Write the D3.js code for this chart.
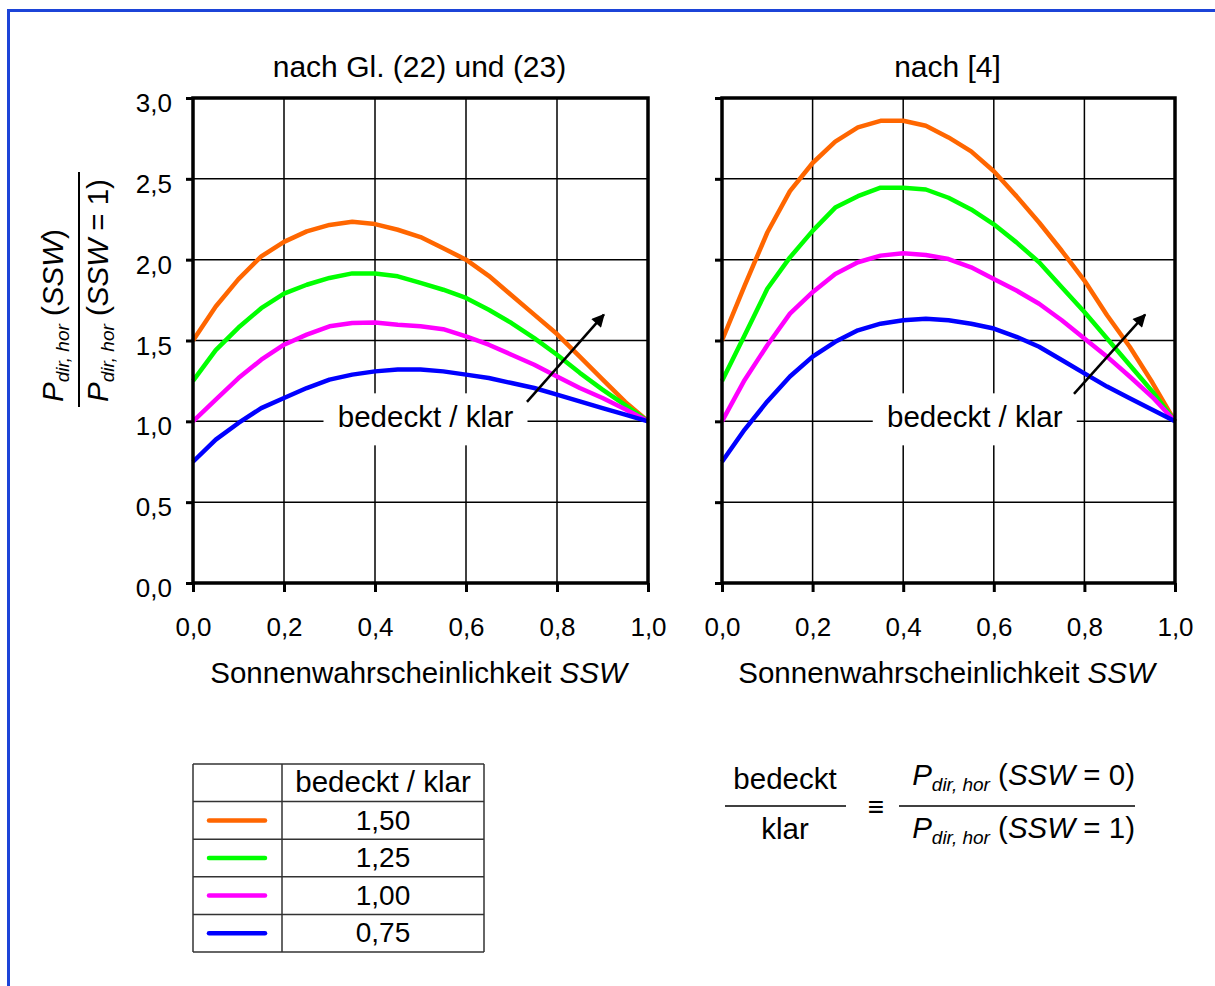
<!DOCTYPE html>
<html>
<head>
<meta charset="utf-8">
<script src="https://cdn.jsdelivr.net/npm/d3@7"></script>
<style>
  body { margin: 0; background: #fff; }
  svg { display: block; font-family: "Liberation Sans", Arial, sans-serif; }
</style>
</head>
<body>
<svg id="chart" width="1215" height="986"></svg>
<script>
// Sonnenwahrscheinlichkeit SSW (x positions of the samples)
const sswPoints = [0, 0.05, 0.1, 0.15, 0.2, 0.25, 0.3, 0.35, 0.4, 0.45, 0.5,
                   0.55, 0.6, 0.65, 0.7, 0.75, 0.8, 0.85, 0.9, 0.95, 1.0];

// left panel: nach Gl. (22) und (23)
const eq150 = [1.50, 1.71, 1.88, 2.02, 2.11, 2.175, 2.215, 2.235, 2.22, 2.185, 2.14,
               2.07, 2.0, 1.90, 1.78, 1.66, 1.54, 1.40, 1.26, 1.12, 1.0];
const eq125 = [1.25, 1.44, 1.58, 1.70, 1.79, 1.845, 1.887, 1.915, 1.915, 1.897, 1.856,
               1.814, 1.763, 1.69, 1.608, 1.515, 1.412, 1.30, 1.196, 1.10, 1.0];
const eq100 = [1.0, 1.134, 1.268, 1.381, 1.474, 1.536, 1.588, 1.608, 1.612, 1.598, 1.588,
               1.57, 1.526, 1.474, 1.412, 1.35, 1.278, 1.206, 1.144, 1.075, 1.0];
const eq075 = [0.75, 0.887, 0.99, 1.082, 1.144, 1.206, 1.258, 1.289, 1.309, 1.32, 1.32,
               1.309, 1.289, 1.268, 1.237, 1.206, 1.165, 1.124, 1.082, 1.041, 1.0];

// right panel: nach [4]
const ref150 = [1.50, 1.84, 2.168, 2.424, 2.598, 2.73, 2.818, 2.859, 2.859, 2.828, 2.756,
                2.67, 2.547, 2.393, 2.23, 2.055, 1.871, 1.656, 1.461, 1.24, 1.0];
const ref125 = [1.25, 1.533, 1.82, 2.014, 2.178, 2.322, 2.393, 2.445, 2.445, 2.434, 2.383,
                2.311, 2.219, 2.107, 1.984, 1.83, 1.676, 1.512, 1.348, 1.185, 1.0];
const ref100 = [1.0, 1.256, 1.471, 1.666, 1.799, 1.912, 1.984, 2.025, 2.039, 2.029, 2.004,
                1.953, 1.881, 1.809, 1.727, 1.625, 1.512, 1.40, 1.277, 1.15, 1.0];
const ref075 = [0.75, 0.949, 1.123, 1.277, 1.40, 1.492, 1.563, 1.604, 1.625, 1.635, 1.625,
                1.604, 1.574, 1.523, 1.461, 1.379, 1.297, 1.215, 1.143, 1.072, 1.0];

const ratioLabels = ["1,50", "1,25", "1,00", "0,75"];
const colors = ["#ff6600", "#00ff00", "#ff00ff", "#0000ff"];
const xTicks = [0, 0.2, 0.4, 0.6, 0.8, 1.0];
const yTicks = [0, 0.5, 1.0, 1.5, 2.0, 2.5, 3.0];

const fmt = d => d3.format(".1f")(d).replace(".", ",");
const svg = d3.select("#chart");

// outer blue frame (runs off the picture on the right and bottom)
svg.append("rect")
    .attr("x", 8.5).attr("y", 10.5)
    .attr("width", 1300).attr("height", 1100)
    .attr("fill", "none").attr("stroke", "#1c44d8").attr("stroke-width", 3);

svg.append("defs").append("marker")
    .attr("id", "head").attr("viewBox", "0 0 10 10")
    .attr("refX", 9).attr("refY", 5)
    .attr("markerWidth", 17).attr("markerHeight", 13)
    .attr("markerUnits", "userSpaceOnUse").attr("orient", "auto")
  .append("path").attr("d", "M0,0 L10,5 L0,10 z").attr("fill", "#000");

// writes mixed text: italic parts, subscripts
function richText(text, parts, size) {
    let shift = 0;
    parts.forEach(p => {
        const t = text.append("tspan").text(p.t);
        if (p.i) t.attr("font-style", "italic");
        const want = p.sub ? 6 : 0;
        if (want !== shift) { t.attr("dy", want - shift); shift = want; }
        t.attr("font-size", p.sub ? 19 : size);
    });
    return text;
}

const panels = [
    { title: "nach Gl. (22) und (23)", series: [eq150, eq125, eq100, eq075],
      x0: 193, x1: 648, yLabels: true, label: [0.511, 1.0],
      arrow: [[0.734, 1.12], [0.903, 1.66]] },
    { title: "nach [4]", series: [ref150, ref125, ref100, ref075],
      x0: 722, x1: 1175, yLabels: false, label: [0.558, 1.0],
      arrow: [[0.777, 1.17], [0.934, 1.66]] }
];

panels.forEach(p => {
    const x = d3.scaleLinear().domain([0, 1]).range([p.x0, p.x1]);
    const y = d3.scaleLinear().domain([0, 3]).range([583, 98]);
    const g = svg.append("g");

    // grid
    g.append("g").selectAll("line").data(xTicks.slice(1, -1)).join("line")
        .attr("x1", d => x(d)).attr("x2", d => x(d))
        .attr("y1", y(0)).attr("y2", y(3))
        .attr("stroke", "#000").attr("stroke-width", 1.5);
    g.append("g").selectAll("line").data(yTicks.slice(1, -1)).join("line")
        .attr("x1", x(0)).attr("x2", x(1))
        .attr("y1", d => y(d)).attr("y2", d => y(d))
        .attr("stroke", "#000").attr("stroke-width", 1.5);

    // white box behind the "bedeckt / klar" annotation
    const lx = x(p.label[0]), ly = y(p.label[1]);
    g.append("rect")
        .attr("x", lx - 102).attr("y", ly - 28)
        .attr("width", 204).attr("height", 52)
        .attr("fill", "#fff");

    // curves
    const line = d3.line().x((d, i) => x(sswPoints[i])).y(d => y(d));
    g.append("g").selectAll("path").data(p.series).join("path")
        .attr("d", d => line(d))
        .attr("fill", "none")
        .attr("stroke", (d, i) => colors[i])
        .attr("stroke-width", 4.5)
        .attr("stroke-linejoin", "round");

    // frame
    g.append("rect")
        .attr("x", x(0)).attr("y", y(3))
        .attr("width", x(1) - x(0)).attr("height", y(0) - y(3))
        .attr("fill", "none").attr("stroke", "#000").attr("stroke-width", 3.5);

    // axes
    const yAxis = g.append("g")
        .attr("transform", `translate(${x(0)},0)`)
        .call(d3.axisLeft(y).tickValues(yTicks).tickSize(7).tickPadding(14)
            .tickFormat(p.yLabels ? fmt : ""));
    const xAxis = g.append("g")
        .attr("transform", `translate(0,${y(0)})`)
        .call(d3.axisBottom(x).tickValues(xTicks).tickSize(9).tickPadding(26)
            .tickFormat(fmt));
    [yAxis, xAxis].forEach(a => {
        a.select(".domain").remove();
        a.selectAll(".tick line").attr("stroke", "#000").attr("stroke-width", 3);
        a.selectAll("text").attr("fill", "#000")
            .attr("font-size", 26).attr("font-family", "Liberation Sans, Arial, sans-serif");
    });
    yAxis.selectAll("text").attr("dy", "0.52em");

    // annotation
    g.append("text")
        .attr("x", lx).attr("y", ly + 6)
        .attr("text-anchor", "middle").attr("font-size", 29.5)
        .text("bedeckt / klar");
    g.append("line")
        .attr("x1", x(p.arrow[0][0])).attr("y1", y(p.arrow[0][1]))
        .attr("x2", x(p.arrow[1][0])).attr("y2", y(p.arrow[1][1]))
        .attr("stroke", "#000").attr("stroke-width", 2.5)
        .attr("marker-end", "url(#head)");

    // title and axis label
    g.append("text")
        .attr("x", (x(0) + x(1)) / 2 - 1).attr("y", 77)
        .attr("text-anchor", "middle").attr("font-size", 30)
        .text(p.title);
    richText(g.append("text")
        .attr("x", (x(0) + x(1)) / 2 - 2).attr("y", 683)
        .attr("text-anchor", "middle"),
        [{ t: "Sonnenwahrscheinlichkeit " }, { t: "SSW", i: true }], 29.5);
});

// y axis title as a fraction
const yNum = [{ t: "P", i: true }, { t: "dir, hor", i: true, sub: true }, { t: " (" },
              { t: "SSW", i: true }, { t: ")" }];
const yDen = [{ t: "P", i: true }, { t: "dir, hor", i: true, sub: true }, { t: " (" },
              { t: "SSW", i: true }, { t: " = 1)" }];
richText(svg.append("text").attr("transform", "translate(63,402) rotate(-90)"), yNum, 29.5);
richText(svg.append("text").attr("transform", "translate(108,402) rotate(-90)"), yDen, 29.5);
svg.append("line").attr("x1", 79).attr("x2", 79).attr("y1", 172).attr("y2", 407)
    .attr("stroke", "#000").attr("stroke-width", 2);

// legend table
const colX = [193, 282, 484];
const rowH = 37.6, tableTop = 764;
const rows = ratioLabels.length + 1;
const table = svg.append("g");
table.selectAll("line.h").data(d3.range(rows + 1)).join("line")
    .attr("x1", colX[0]).attr("x2", colX[2])
    .attr("y1", d => tableTop + d * rowH).attr("y2", d => tableTop + d * rowH)
    .attr("stroke", "#333").attr("stroke-width", 1.5);
table.selectAll("line.v").data(colX).join("line")
    .attr("x1", d => d).attr("x2", d => d)
    .attr("y1", tableTop).attr("y2", tableTop + rows * rowH)
    .attr("stroke", "#333").attr("stroke-width", 1.5);
table.append("text")
    .attr("x", (colX[1] + colX[2]) / 2).attr("y", tableTop + 28)
    .attr("text-anchor", "middle").attr("font-size", 29.5)
    .text("bedeckt / klar");
ratioLabels.forEach((r, i) => {
    const cy = tableTop + (i + 1) * rowH;
    table.append("line")
        .attr("x1", 209).attr("x2", 265)
        .attr("y1", cy + rowH / 2).attr("y2", cy + rowH / 2)
        .attr("stroke", colors[i]).attr("stroke-width", 4.5)
        .attr("stroke-linecap", "round");
    table.append("text")
        .attr("x", (colX[1] + colX[2]) / 2).attr("y", cy + 28)
        .attr("text-anchor", "middle").attr("font-size", 28)
        .text(r);
});

// definition of bedeckt / klar
const def = svg.append("g");
def.append("text").attr("x", 785).attr("y", 789).attr("text-anchor", "middle")
    .attr("font-size", 29.5).text("bedeckt");
def.append("text").attr("x", 785).attr("y", 839).attr("text-anchor", "middle")
    .attr("font-size", 29.5).text("klar");
def.append("line").attr("x1", 725).attr("x2", 846).attr("y1", 806).attr("y2", 806)
    .attr("stroke", "#000").attr("stroke-width", 1.5);
def.append("text").attr("x", 876).attr("y", 816).attr("text-anchor", "middle")
    .attr("font-size", 28).text("\u2261");
const defNum = [{ t: "P", i: true }, { t: "dir, hor", i: true, sub: true }, { t: " (" },
                { t: "SSW", i: true }, { t: " = 0)" }];
const defDen = [{ t: "P", i: true }, { t: "dir, hor", i: true, sub: true }, { t: " (" },
                { t: "SSW", i: true }, { t: " = 1)" }];
richText(def.append("text").attr("x", 1135).attr("y", 785).attr("text-anchor", "end"), defNum, 29.5);
richText(def.append("text").attr("x", 1135).attr("y", 838).attr("text-anchor", "end"), defDen, 29.5);
def.append("line").attr("x1", 899).attr("x2", 1135).attr("y1", 806).attr("y2", 806)
    .attr("stroke", "#000").attr("stroke-width", 1.5);
</script>
</body>
</html>
